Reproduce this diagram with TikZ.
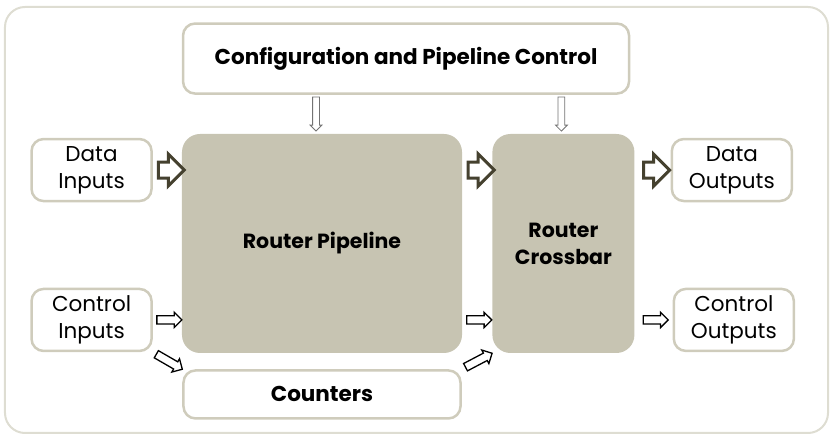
\documentclass[tikz,border=0pt]{standalone}
\usepackage{fontspec}
\setmainfont{Poppins}
\usetikzlibrary{positioning, calc, shapes.arrows}

\definecolor{boxline}{HTML}{CFCCBC}
\definecolor{blockfill}{HTML}{C7C4B2}
\definecolor{framecol}{HTML}{DEDDD2}
\definecolor{bigarrow}{HTML}{45412F}

\begin{document}
\begin{tikzpicture}[
        x=1pt, y=1pt,
        box/.style={rectangle, rounded corners=12pt, draw=boxline, line width=2.5pt, fill=white, align=center, font=\fontsize{21.5}{24}\selectfont\bfseries},
        iobox/.style={rectangle, rounded corners=12pt, draw=boxline, line width=2.5pt, fill=white, align=center, minimum width=120pt, minimum height=62pt, inner sep=0pt, font=\fontsize{21.5}{27}\selectfont},
        block/.style={rectangle, rounded corners=18pt, fill=blockfill, align=center, minimum height=219pt, font=\fontsize{20.5}{27}\selectfont\bfseries},
        dataarrow/.style={single arrow, draw=bigarrow, line width=3pt, fill=white, inner xsep=0pt, inner ysep=6.5pt, minimum height=26pt, single arrow head extend=8pt, sloped},
        ctrlarrow/.style={single arrow, draw=black, line width=1.3pt, fill=white, inner xsep=0pt, inner ysep=3.5pt, minimum height=25pt, single arrow head extend=3.5pt, sloped},
        cfgarrow/.style={single arrow, draw=black!55, line width=0.8pt, fill=white, inner xsep=0pt, inner ysep=3pt, minimum height=34pt, single arrow head extend=2.5pt, sloped}
    ]
        \useasboundingbox (-322,-194.5) rectangle (510,243.5);
        % --- FRAME ---
        \draw[framecol, line width=2pt, rounded corners=20pt] (-317,-189.5) rectangle (506,236.5);

        % --- BLOCKS ---
        \node[block, minimum width=280pt] (pipe) at (0,0) {Router Pipeline};
        \node[block, minimum width=142pt, right=30pt of pipe] (xbar) {Router\\Crossbar};
        \node[box, minimum width=446pt, minimum height=70pt, anchor=south west] (config) at ([yshift=39pt]pipe.north west) {Configuration and Pipeline Control};
        \node[box, minimum width=277pt, minimum height=48pt, below=16pt of pipe] (counters) {Counters};

        % --- INPUTS / OUTPUTS ---
        \node[iobox, below left=4pt and 29pt of pipe.north west] (din) {Data\\Inputs};
        \node[iobox, above left=1pt and 29pt of pipe.south west] (cin) {Control\\Inputs};
        \node[iobox, below right=4pt and 36pt of xbar.north east] (dout) {Data\\Outputs};
        \node[iobox, above right=1pt and 38pt of xbar.south east] (cout) {Control\\Outputs};

        % --- ARROWS ---
        % data path
        \path (din.east) -- (din.east -| pipe.west) node[midway, dataarrow] {};
        \path (pipe.east |- din.east) -- (xbar.west |- din.east) node[midway, dataarrow] {};
        \path (xbar.east |- dout.west) -- (dout.west) node[midway, dataarrow] {};

        % control path
        \path (cin.east) -- (cin.east -| pipe.west) node[midway, ctrlarrow] {};
        \path (pipe.east |- cin.east) -- (xbar.west |- cin.east) node[midway, ctrlarrow] {};
        \path (xbar.east |- cout.west) -- (cout.west) node[midway, ctrlarrow] {};
        \path (cin.south east) -- (counters.north west) node[midway, ctrlarrow, minimum height=30pt] {};
        \path (counters.north east) -- (xbar.south west) node[midway, ctrlarrow, minimum height=30pt] {};

        % configuration
        \path ([xshift=-6pt]config.south -| pipe.north) -- ([xshift=-6pt]pipe.north) node[pos=0.45, cfgarrow] {};
        \path ([xshift=-2pt]config.south -| xbar.north) -- ([xshift=-2pt]xbar.north) node[pos=0.45, cfgarrow] {};

    \end{tikzpicture}
\end{document}
